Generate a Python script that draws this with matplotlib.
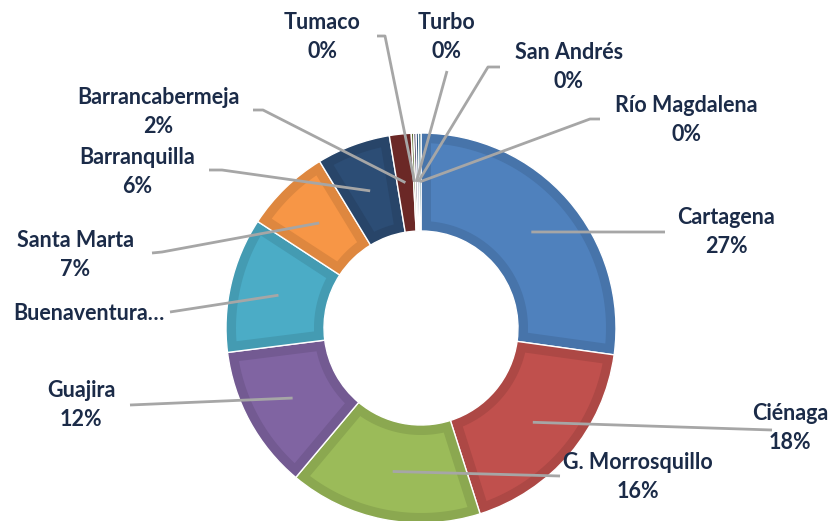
import numpy as np
import matplotlib.pyplot as plt
import matplotlib.colors as mcolors
from matplotlib.patches import Polygon

# data (percent share by port)
ports = ["Cartagena", "Ciénaga", "G. Morrosquillo", "Guajira", "Buenaventura",
         "Santa Marta", "Barranquilla", "Barrancabermeja", "Tumaco", "Turbo",
         "San Andrés", "Río Magdalena"]
shares = [27.2, 17.9, 16.0, 11.9, 11.2, 7.1, 6.1, 1.8, 0.2, 0.2, 0.2, 0.2]
colors = ["#4F81BD", "#C0504D", "#9BBB59", "#8064A2", "#4BACC6", "#F79646",
          "#2C4D75", "#772C2A", "#5F7530", "#4D3B62", "#1F497D", "#276A7C"]

# layout, in pixel coords of an 838x521 canvas (y measured from top)
W, H = 838, 521
cx, cy, R, hole = 421, 328, 195, 97
label_pos = [(726, 232), (790, 428), (638, 477), (81, 405), (89, 313),
             (75, 255), (137, 172), (158, 112), (322, 37), (446, 37),
             (569, 67), (686, 120)]
# where leader line meets the label, and its short elbow
attach = [(665, 232), (772, 430), (560, 476), (130, 405), (170, 312),
          (152, 253), (209, 170), (253, 110), (377, 36), (447, 71),
          (500, 67), (600, 119)]
elbow = [None, None, None, None, None, (162, 252), (222, 170), (263, 110),
         (385, 36), None, (488, 67), (590, 119)]

text_color = "#1B2B48"
line_color = "#A6A6A6"


def darker(c, f=0.9):
    r, g, b = mcolors.to_rgb(c)
    return (r * f, g * f, b * f)


fig = plt.figure(figsize=(W / 100, H / 100), dpi=100)
ax = fig.add_axes([0, 0, 1, 1])

center = (cx, H - cy)
# slightly darker ring = bevel edge of each slice
wedges, _ = ax.pie(shares, colors=[darker(c) for c in colors], radius=R,
                   center=center, startangle=90, counterclock=False,
                   wedgeprops=dict(width=R - hole, edgecolor="white",
                                   linewidth=1.0))
# lighter face of each slice, inset from every edge
d = 10
r_out, r_in = R - d, hole + d
for w, c in zip(wedges, colors):
    t1, t2 = np.radians(w.theta1), np.radians(w.theta2)
    a_out, a_in = d / r_out, d / r_in
    if t2 - t1 <= 2 * a_in:
        continue
    to = np.linspace(t1 + a_out, t2 - a_out, 60)
    ti = np.linspace(t2 - a_in, t1 + a_in, 60)
    xs = np.concatenate([w.center[0] + r_out * np.cos(to),
                         w.center[0] + r_in * np.cos(ti)])
    ys = np.concatenate([w.center[1] + r_out * np.sin(to),
                         w.center[1] + r_in * np.sin(ti)])
    ax.add_patch(Polygon(np.column_stack([xs, ys]), closed=True,
                         facecolor=c, edgecolor="none",
                         zorder=w.get_zorder() + 0.1))

ax.set_xlim(0, W)
ax.set_ylim(0, H)
ax.set_aspect("equal")
ax.set_axis_off()

# leader lines and labels
total = sum(shares)
cum = np.cumsum([0] + shares[:-1])
for i, (name, v) in enumerate(zip(ports, shares)):
    mid = (cum[i] + v / 2) / total * 2 * np.pi
    r_anchor = 0.75 * R
    ax_x = cx + r_anchor * np.sin(mid)
    ax_y = cy - r_anchor * np.cos(mid)
    pts = [attach[i]]
    if elbow[i] is not None:
        pts.append(elbow[i])
    pts.append((ax_x, ax_y))
    xs = [p[0] for p in pts]
    ys = [H - p[1] for p in pts]
    ax.plot(xs, ys, color=line_color, lw=2, solid_capstyle="butt", zorder=3)

    if name == "Buenaventura":
        txt = "Buenaventura…"
    else:
        txt = f"{name}\n{v:.0f}%"
    lx, ly = label_pos[i]
    ax.text(lx, H - ly, txt, ha="center", va="center", fontsize=15.5,
            fontweight="bold", family=["Lato", "DejaVu Sans"],
            color=text_color, linespacing=1.45, zorder=4)

fig.savefig("out.png", dpi=100)
